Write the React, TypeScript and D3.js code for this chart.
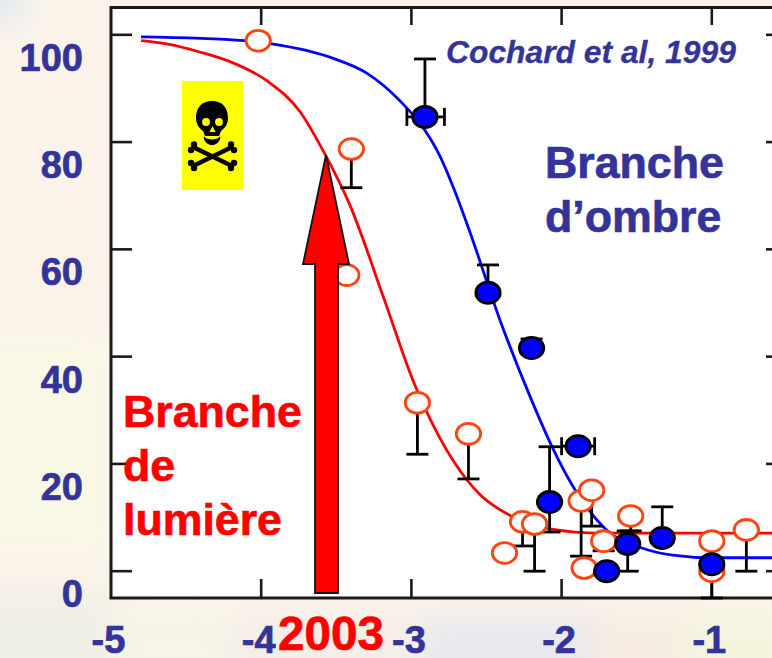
import React from "react";
import * as d3 from "d3";

const W = 772, H = 658;

// fitted-curve readings (log10 scale on x, % on y)
const curveX_blue = [-4.8, -4.11, -3.93, -3.52, -3.3, -3.08, -2.91, -2.81, -2.71, -2.61, -2.41, -2.2, -2.06, -1.92, -1.72, -1.43, -1.26, -1.0, -0.6, 0];
const curveY_blue = [99.6, 98.9, 98.3, 95.6, 92.9, 87.8, 82.2, 77.4, 70.8, 63.2, 46.8, 31.9, 23.0, 15.6, 8.2, 4.0, 3.0, 2.5, 2.5, 2.5];
const curveX_red = [-4.8, -4.63, -4.41, -4.19, -3.96, -3.74, -3.59, -3.41, -3.18, -2.99, -2.81, -2.63, -2.54, -2.33, -2.08, -1.74, -0.6, 0];
const curveY_red = [98.9, 98.3, 96.8, 94.8, 91.4, 85.6, 78.5, 68.3, 50.6, 35.6, 24.8, 17.0, 14.2, 10.2, 7.9, 7.1, 7.1, 7.1];

// measured points
const blueX = [-2.91, -2.49, -2.2, -1.89, -2.08, -1.7, -1.56, -1.33, -1.0];
const blueY = [84.7, 51.9, 41.6, 23.3, 12.9, 0, 5.1, 6.2, 1.3];
const blueHi = [95.5, 57.1, 43.3, null, 23.2, null, 7.5, 12.0, null];
const blueLo = [null, null, null, null, 7.3, null, 0, null, null];
const blueXLo = [-3.03, null, null, -2.0, null, null, null, null, null];
const blueXHi = [-2.78, null, null, -1.78, null, null, null, null, null];

const redX = [-4.02, -3.4, -3.43, -2.96, -2.62, -2.26, -2.18, -2.38, -1.87, -1.8, -1.85, -1.72, -1.54, -1.0, -1.0, -0.77];
const redY = [98.9, 78.7, 55.2, 31.4, 25.6, 9.2, 8.8, 3.4, 13.1, 15.1, 0.6, 5.6, 10.3, 5.6, 0, 7.7];
const redLo = [null, 71.5, null, 21.8, 17.2, 4.7, 0, null, 2.8, 8.4, null, 3.8, 7.5, null, -5, 0];

const xTicks = [-5, -4, -3, -2, -1];
const yTicks = [0, 20, 40, 60, 80, 100];

const x = d3.scaleLinear().domain([-5, 0]).range([111, 862]);
const y = d3.scaleLinear().domain([-5, 105]).range([598, 8]);
const line = d3.line<[number, number]>().x(d => x(d[0])).y(d => y(d[1])).curve(d3.curveMonotoneX);
const blueCurve = line(curveX_blue.map((v, i) => [v, curveY_blue[i]] as [number, number])) || "";
const redCurve = line(curveX_red.map((v, i) => [v, curveY_red[i]] as [number, number])) || "";

const NAVY = "#333399";
const FONT = "'Liberation Sans', Arial, sans-serif";

function VErr({ xv, from, to }: { xv: number; from: number; to: number }) {
  return (
    <g stroke="#000" strokeWidth={2.8}>
      <line x1={x(xv)} x2={x(xv)} y1={y(from)} y2={y(to)} />
      <line x1={x(xv) - 11} x2={x(xv) + 11} y1={y(to)} y2={y(to)} />
    </g>
  );
}
function HErr({ yv, from, to }: { yv: number; from: number; to: number }) {
  return (
    <g stroke="#000" strokeWidth={2.8}>
      <line x1={x(from)} x2={x(to)} y1={y(yv)} y2={y(yv)} />
      <line x1={x(from)} x2={x(from)} y1={y(yv) - 9} y2={y(yv) + 9} />
      <line x1={x(to)} x2={x(to)} y1={y(yv) - 9} y2={y(yv) + 9} />
    </g>
  );
}

function Skull() {
  return (
    <g>
      <rect x={182} y={81} width={61} height={109} fill="#ffff00" />
      <path d="M212 101 C199 101 196 111 196 118 C196 124 199 128 203 131 L205 136 L219 136 L221 131 C225 128 228 124 228 118 C228 111 225 101 212 101 Z" fill="#000" />
      <path d="M204 137 C207 141 217 141 220 137 L219 140 C216 146 208 146 205 140 Z" fill="#000" stroke="#000" strokeWidth={1.2} />
      <circle cx={206} cy={122} r={3.9} fill="#ffff00" />
      <circle cx={219} cy={122} r={3.9} fill="#ffff00" />
      <path d="M212.5 126 L215.5 132 L209.5 132 Z" fill="#ffff00" />
      <g stroke="#000" strokeWidth={4.6} strokeLinecap="round">
        <line x1={195} y1={148} x2={230} y2={165} />
        <line x1={230} y1={148} x2={195} y2={165} />
      </g>
      <g fill="#000">
        <circle cx={194} cy={144.5} r={3.2} /><circle cx={191} cy={150} r={3.2} />
        <circle cx={231} cy={144.5} r={3.2} /><circle cx={234} cy={150} r={3.2} />
        <circle cx={191} cy={163} r={3.2} /><circle cx={194} cy={168} r={3.2} />
        <circle cx={234} cy={163} r={3.2} /><circle cx={231} cy={168} r={3.2} />
      </g>
    </g>
  );
}

export default function App() {
  return (
    <svg width={W} height={H} viewBox={`0 0 ${W} ${H}`} style={{ position: "absolute", left: 0, top: 0, display: "block" }} fontFamily={FONT} fontWeight="bold">
      <defs>
        <filter id="soft" x="-30%" y="-30%" width="160%" height="160%"><feGaussianBlur stdDeviation="16" /></filter>
      </defs>
      <rect width={W} height={H} fill="#fbf3ea" />
      <g filter="url(#soft)">
        <rect x={-40} y={-40} width={65} height={60} fill="#dfeaf2" />
        <rect x={-40} y={340} width={150} height={210} fill="#f9f8e6" />
        <rect x={-40} y={590} width={150} height={110} fill="#f0efe6" />
        <rect x={110} y={610} width={120} height={80} fill="#f6f4e6" />
        <rect x={230} y={615} width={180} height={80} fill="#f5eee8" />
        <rect x={420} y={615} width={170} height={80} fill="#e8e8ee" />
        <rect x={590} y={615} width={90} height={80} fill="#f6ece2" />
        <rect x={680} y={615} width={130} height={80} fill="#f4f4de" />
      </g>

      <rect x={111} y={8} width={W} height={590} fill="#fff" />
      <g stroke="#1a1a1a" strokeWidth={3} fill="none">
        <path d={`M${W + 5} 7.5 H111 V598 H${W + 5}`} />
      </g>
      <g stroke="#1a1a1a" strokeWidth={2.6}>
        {yTicks.map(t => <line key={t} x1={111} x2={132} y1={y(t)} y2={y(t)} />)}
        {yTicks.map(t => <line key={"r" + t} x1={766} x2={W} y1={y(t)} y2={y(t)} />)}
        {xTicks.slice(1).map(t => <line key={t} x1={x(t)} x2={x(t)} y1={7} y2={25} />)}
        {xTicks.slice(1).map(t => <line key={"b" + t} x1={x(t)} x2={x(t)} y1={598} y2={579} />)}
      </g>

      <path d={blueCurve} fill="none" stroke="#0000ff" strokeWidth={2.8} />
      <path d={redCurve} fill="none" stroke="#ff0000" strokeWidth={2.8} />

      {redX.map((v, i) => redLo[i] !== null ? <VErr key={i} xv={v} from={redY[i]} to={redLo[i] as number} /> : null)}
      {blueX.map((v, i) => (
        <g key={i}>
          {blueHi[i] !== null && <VErr xv={v} from={blueY[i]} to={blueHi[i] as number} />}
          {blueLo[i] !== null && <VErr xv={v} from={blueY[i]} to={blueLo[i] as number} />}
          {blueXLo[i] !== null && <HErr yv={blueY[i]} from={blueXLo[i] as number} to={blueXHi[i] as number} />}
        </g>
      ))}
      {redX.map((v, i) => (
        <ellipse key={i} cx={x(v)} cy={y(redY[i])} rx={12.2} ry={10.4} fill="#fff" stroke="#ff4410" strokeWidth={2.8} />
      ))}
      {blueX.map((v, i) => (
        <ellipse key={i} cx={x(v)} cy={y(blueY[i])} rx={12.2} ry={10.6} fill="#0000ff" stroke="#000" strokeWidth={2.8} />
      ))}

      <path d="M326 155 L349 264 L338 264 L338 593 L315 593 L315 264 L303 264 Z" fill="#ff0000" stroke="#111" strokeWidth={1.8} strokeLinejoin="miter" />

      <Skull />

      <g strokeWidth={0.7} stroke={NAVY}>
        {yTicks.map(t => (
          <text key={t} x={83} y={y(t) + 36} textAnchor="end" fontSize={38} fill={NAVY}>{t}</text>
        ))}
        {xTicks.map(t => (
          <text key={t} x={x(t) - 2.5} y={653} textAnchor="middle" fontSize={38} fill={NAVY}>{t}</text>
        ))}
        <text x={446} y={63} fontSize={31.8} fontStyle="italic" fill={NAVY} strokeWidth={0.3}>Cochard et al, 1999</text>
        <text x={545} y={178} fontSize={44.7} fill={NAVY}>Branche</text>
        <text x={545} y={232} fontSize={44.7} fill={NAVY}>d’ombre</text>
      </g>
      <g strokeWidth={0.7} stroke="#ff0000" fill="#ff0000">
        <text x={123} y={427} fontSize={44.7}>Branche</text>
        <text x={123} y={481} fontSize={44.7}>de</text>
        <text x={123} y={535} fontSize={44.7}>lumière</text>
        <text x={278} y={650} fontSize={47.6}>2003</text>
      </g>
    </svg>
  );
}
